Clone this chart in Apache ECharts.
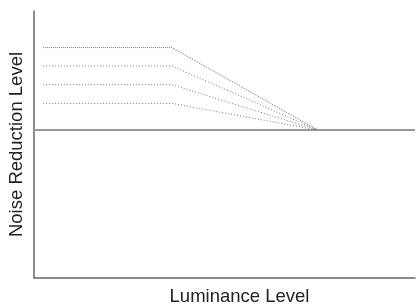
<!DOCTYPE html>
<html>
<head>
<meta charset="utf-8">
<script src="https://cdn.jsdelivr.net/npm/echarts@6/dist/echarts.min.js"></script>
<style>
  html, body { margin: 0; padding: 0; background: #fff; }
  #chart { width: 417px; height: 304px; }
</style>
</head>
<body>
<div id="chart"></div>
<script>
// knee points along luminance: start of dotted curve, end of flat part, meeting point
const kneeX = [2.4, 36.2, 74.5]
// noise reduction levels of the dotted curves (top to bottom)
const levels = [86.3, 79.4, 72.4, 65.4]
// base level line
const baseLevel = 55.4
const xRange = [0, 100]

const dotPatterns = [[1, 1], [1, 2], [1, 2], [1, 2]]

let chart = echarts.init(document.getElementById('chart'))

let curves = levels.map((lv, i) => ({
    type: 'line',
    symbol: 'none',
    silent: true,
    data: [[kneeX[0], lv], [kneeX[1], lv], [kneeX[2], baseLevel]],
    lineStyle: { color: '#777', width: 1, type: dotPatterns[i] }
}))

chart.setOption({
    animation: false,
    grid: { left: 34, top: 11, right: 2, bottom: 26, outerBoundsMode: 'none', containLabel: false },
    xAxis: {
        type: 'value',
        min: xRange[0],
        max: xRange[1],
        name: 'Luminance Level',
        nameLocation: 'middle',
        nameGap: 9,
        nameTextStyle: {
            fontFamily: 'Liberation Sans',
            fontSize: 18.5,
            color: '#222',
            padding: [0, 0, 0, 30]
        },
        axisLine: { lineStyle: { color: '#666', width: 1.5 } },
        axisTick: { show: false },
        axisLabel: { show: false },
        splitLine: { show: false }
    },
    yAxis: {
        type: 'value',
        min: 0,
        max: 100,
        name: 'Noise Reduction Level',
        nameLocation: 'middle',
        nameGap: 8,
        nameTextStyle: {
            fontFamily: 'Liberation Sans',
            fontSize: 18.5,
            color: '#222'
        },
        axisLine: { show: true, lineStyle: { color: '#666', width: 1.5 } },
        axisTick: { show: false },
        axisLabel: { show: false },
        splitLine: { show: false }
    },
    series: [
        {
            type: 'line',
            symbol: 'none',
            silent: true,
            data: [[xRange[0], baseLevel], [xRange[1], baseLevel]],
            lineStyle: { color: '#999', width: 2 }
        },
        ...curves
    ]
})
</script>
</body>
</html>
